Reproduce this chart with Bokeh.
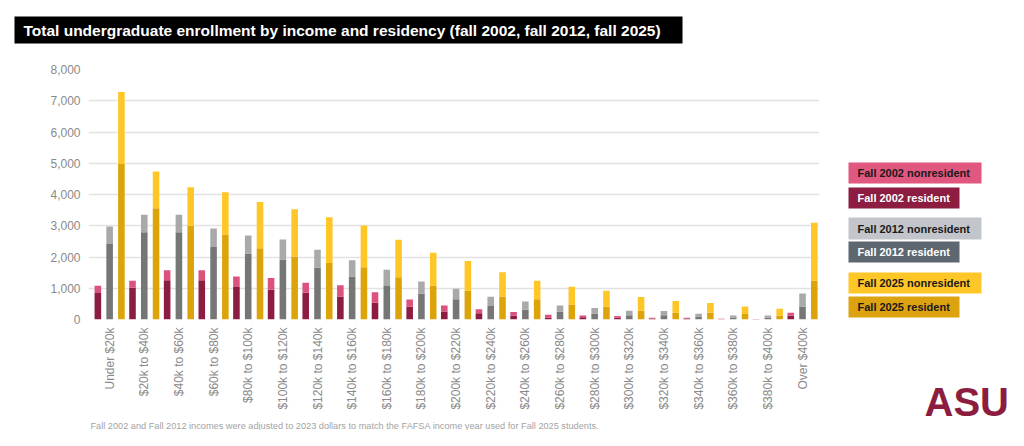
import numpy as np
from math import pi
from bokeh.plotting import figure
from bokeh.layouts import row, column
from bokeh.models import ColumnDataSource, Range1d, FixedTicker, NumeralTickFormatter, Plot
from bokeh.core.properties import value
from bokeh.embed import file_html
from bokeh.resources import INLINE

categories = ["Under $20k", "$20k to $40k", "$40k to $60k", "$60k to $80k", "$80k to $100k",
              "$100k to $120k", "$120k to $140k", "$140k to $160k", "$160k to $180k",
              "$180k to $200k", "$200k to $220k", "$220k to $240k", "$240k to $260k",
              "$260k to $280k", "$280k to $300k", "$300k to $320k", "$320k to $340k",
              "$340k to $360k", "$360k to $380k", "$380k to $400k", "Over $400k"]

res_2002 = [850, 1020, 1260, 1260, 1040, 960, 860, 740, 540, 410, 260, 200, 120, 65, 70, 60, 30, 30, 12, 8, 120]
nonres_2002 = [230, 220, 320, 320, 340, 370, 320, 360, 330, 230, 190, 130, 120, 85, 60, 50, 25, 25, 10, 7, 95]
res_2012 = [2420, 2790, 2790, 2320, 2110, 1920, 1660, 1380, 1070, 830, 650, 430, 310, 255, 190, 140, 140, 95, 65, 65, 420]
nonres_2012 = [560, 560, 560, 590, 580, 640, 570, 520, 520, 390, 335, 300, 270, 195, 175, 140, 130, 90, 65, 65, 410]
res_2025 = [4980, 3560, 3000, 2720, 2280, 2020, 1810, 1670, 1350, 1090, 930, 740, 650, 480, 420, 280, 225, 225, 175, 130, 1240]
nonres_2025 = [2300, 1180, 1230, 1350, 1480, 1510, 1460, 1340, 1200, 1050, 940, 770, 590, 570, 500, 440, 365, 300, 245, 215, 1860]

y_ticks = [0, 1000, 2000, 3000, 4000, 5000, 6000, 7000, 8000]

title_text = "Total undergraduate enrollment by income and residency (fall 2002, fall 2012, fall 2025)"
footnote_text = ("Fall 2002 and Fall 2012 incomes were adjusted to 2023 dollars to match the "
                 "FAFSA income year used for Fall 2025 students.")

series = [
    ("Fall 2002", res_2002, nonres_2002, -0.34, "#8C1D40", "#DB527C"),
    ("Fall 2012", res_2012, nonres_2012, 0.0, "#767676", "#A9A9A9"),
    ("Fall 2025", res_2025, nonres_2025, 0.34, "#DDA40A", "#FFC627"),
]

legend_labels = ["Fall 2002 nonresident", "Fall 2002 resident",
                 "Fall 2012 nonresident", "Fall 2012 resident",
                 "Fall 2025 nonresident", "Fall 2025 resident"]
legend_fill = ["#E0577F", "#8C1D40", "#C2C6CA", "#5E6770", "#FFC627", "#DDA20F"]
legend_text_color = ["#1a1a1a", "#ffffff", "#1a1a1a", "#ffffff", "#1a1a1a", "#1a1a1a"]

FONT = "Liberation Sans"
MAIN_W = 830
SIDE_W = 178
TITLE_H = 61
MAIN_H = 354
FOOT_H = 15
TOTAL_H = TITLE_H + MAIN_H + FOOT_H
HAS_FRAME_ALIGN = "frame_align" in Plot.properties()


def blank(w, h, x0, x1, y0, y1):
    kw = dict(frame_width=w, frame_height=h)
    if HAS_FRAME_ALIGN:
        kw["frame_align"] = False
    f = figure(output_backend="svg", toolbar_location=None,
               x_range=Range1d(x0, x1), y_range=Range1d(y1, y0),
               x_axis_type=None, y_axis_type=None,
               min_border=0, min_border_left=0, min_border_right=0,
               min_border_top=0, min_border_bottom=0, **kw)
    f.outline_line_color = None
    f.grid.visible = False
    f.background_fill_color = "white"
    f.border_fill_color = "white"
    return f


# ---- title strip (page coords: x 0..830, y 0..61)
pt = blank(MAIN_W, TITLE_H, 0, MAIN_W, 0, TITLE_H)
pt.quad(left=[14], right=[682], top=[16], bottom=[43], fill_color="black", line_color=None)
pt.text(x=[23], y=[29.5], text=[title_text], text_font=value(FONT), text_font_style="bold",
        text_font_size="15.5px", text_color="white", text_baseline="middle", text_align="left")

# ---- main chart (page y 61..415)
p = figure(width=MAIN_W, height=MAIN_H, output_backend="svg", toolbar_location=None,
           x_range=Range1d(-0.61, 20.49), y_range=Range1d(0, 8000),
           min_border_left=88, min_border_right=MAIN_W - 819, min_border_top=8,
           min_border_bottom=MAIN_H - 8 - 250)
p.outline_line_color = None
p.background_fill_color = "white"
p.border_fill_color = "white"
if HAS_FRAME_ALIGN:
    p.frame_align = False

idx = np.arange(len(categories))
for name, res, nonres, off, c_res, c_non in series:
    res = np.array(res, dtype=float)
    nonres = np.array(nonres, dtype=float)
    src = ColumnDataSource(dict(x=idx + off, res=res, tot=res + nonres, zero=np.zeros_like(res)))
    p.vbar(x="x", bottom="zero", top="res", width=0.19, source=src, fill_color=c_res, line_color=None)
    p.vbar(x="x", bottom="res", top="tot", width=0.19, source=src, fill_color=c_non, line_color=None)

p.xgrid.grid_line_color = None
p.ygrid.grid_line_color = "#e2e2e2"
p.ygrid.grid_line_width = 1.5
p.ygrid.ticker = FixedTicker(ticks=y_ticks)

p.yaxis.ticker = FixedTicker(ticks=y_ticks)
p.yaxis.formatter = NumeralTickFormatter(format="0,0")
p.yaxis.axis_line_color = None
p.yaxis.major_tick_line_color = None
p.yaxis.minor_tick_line_color = None
p.yaxis.major_tick_out = 0
p.yaxis.major_tick_in = 0
p.yaxis.major_label_standoff = 8
p.yaxis.major_label_text_font = FONT
p.yaxis.major_label_text_font_size = "12px"
p.yaxis.major_label_text_color = "#8a8a8a"

p.xaxis.ticker = FixedTicker(ticks=list(range(len(categories))))
p.xaxis.major_label_overrides = {i: c for i, c in enumerate(categories)}
p.xaxis.major_label_orientation = pi / 2
p.xaxis.axis_line_color = None
p.xaxis.major_tick_line_color = None
p.xaxis.minor_tick_line_color = None
p.xaxis.major_tick_out = 0
p.xaxis.major_tick_in = 0
p.xaxis.major_label_standoff = 8
p.xaxis.major_label_text_font = FONT
p.xaxis.major_label_text_font_size = "12px"
p.xaxis.major_label_text_color = "#8a8a8a"

# ---- footnote strip (page y 415..430)
pf = blank(MAIN_W, FOOT_H, 0, MAIN_W, TITLE_H + MAIN_H, TOTAL_H)
pf.text(x=[90], y=[425], text=[footnote_text], text_font=value(FONT), text_font_size="9.2px",
        text_color="#a3a3a3", text_baseline="middle", text_align="left")

# ---- side strip with legend and logo (page x 830..1008, y 0..430)
ps = blank(SIDE_W, TOTAL_H, MAIN_W, MAIN_W + SIDE_W, 0, TOTAL_H)
box_top = [162, 187, 217, 241, 272, 296]
box_bot = [183, 208, 239, 262, 293, 317]
box_right = [981, 959, 981, 959, 981, 959]
lsrc = ColumnDataSource(dict(left=[848] * 6, right=box_right, top=box_top, bottom=box_bot,
                             fill=legend_fill, tcol=legend_text_color, label=legend_labels,
                             tx=[857] * 6, ty=[(a + b) / 2 for a, b in zip(box_top, box_bot)]))
ps.quad(left="left", right="right", top="top", bottom="bottom", fill_color="fill",
        line_color=None, source=lsrc)
ps.text(x="tx", y="ty", text="label", text_color="tcol", source=lsrc, text_font=value(FONT),
        text_font_style="bold", text_font_size="11px", text_baseline="middle", text_align="left")
ps.text(x=[924], y=[401], text=["ASU"], text_font=value(FONT), text_font_style="bold",
        text_font_size="40px", text_color="#8C1D40", text_baseline="middle", text_align="left")

layout = row(column(pt, p, pf), ps)
open("out.html", "w").write(file_html(layout, INLINE))
